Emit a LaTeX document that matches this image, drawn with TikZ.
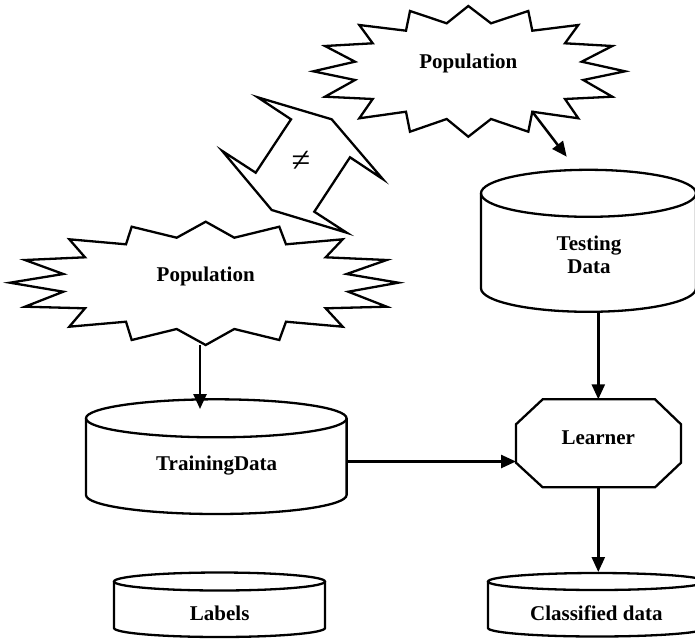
\documentclass[tikz,border=0pt]{standalone}
\usepackage{fontspec}
\setmainfont{Liberation Serif}
\usetikzlibrary{arrows.meta}
\tikzset{
  shapeline/.style={line width=2.3pt, line join=miter},
  conn/.style={line width=2.5pt, -{Triangle[length=15pt,width=13pt]}},
  lbl/.style={font=\fontsize{21}{23.5}\selectfont\bfseries, inner sep=0pt, anchor=base},
}
\newcommand\drawcyl[5]{%
  \draw[shapeline] (#1,#3) ellipse [x radius=#2, y radius=#5];
  \draw[shapeline] ({#1-#2},#3) -- ({#1-#2},#4) arc[start angle=180,end angle=0,x radius=#2,y radius=#5] -- ({#1+#2},#3);
}
\begin{document}
\begin{tikzpicture}[x=1pt,y=-1pt]
\clip (0,0) rectangle (695,640);
\fill[white] (0,0) rectangle (695,640);
% top population starburst
\draw[shapeline] (468.3,6) -- (491,23.3) -- (528.3,11) -- (532.3,30.7) -- (578.3,25) -- (565,43.3) -- (612.3,46) -- (581.7,61.7) -- (625,71.3) -- (583.3,80) -- (612.3,96.7) -- (565,99) -- (578.3,118.3) -- (532.3,111.7) -- (528.3,131.7) -- (491,119) -- (468.3,136.7) -- (446.7,119) -- (410,131.7) -- (406,111.7) -- (359.3,118.3) -- (372.7,99) -- (325,96.7) -- (355,80) -- (313.3,71.3) -- (355,61.7) -- (325,46) -- (372.7,43.3) -- (359.3,25) -- (406,30.7) -- (410,11) -- (446.7,23.3) -- cycle;
% lower population starburst
\draw[shapeline] (205.7,221.7) -- (234.3,237.7) -- (279.3,226.7) -- (286,244.3) -- (342.7,239.3) -- (325.7,257.3) -- (386.7,260) -- (346.7,274) -- (398.3,282.7) -- (348.3,291.7) -- (386.7,306.7) -- (325.7,308.3) -- (342.7,326.7) -- (286,321.7) -- (279.3,340) -- (234.3,329) -- (205.7,345) -- (176.7,329) -- (131.7,340) -- (126,321.7) -- (69.3,326.7) -- (85,308.3) -- (25,306.7) -- (63.3,291.7) -- (10,282.7) -- (63.3,274) -- (25,260) -- (85,257.3) -- (69.3,239.3) -- (126,244.3) -- (131.7,226.7) -- (176.7,237.7) -- cycle;
% double arrow
\draw[shapeline] (257.7,97.3) -- (331.7,119.3) -- (382.7,179) -- (350,157.3) -- (314.3,211.7) -- (346.7,232.7) -- (271.7,210) -- (222.3,151) -- (255.7,172.7) -- (291,119.3) -- cycle;
% cylinders
\drawcyl{588.5}{107.5}{193.3}{288.3}{23.5}
\drawcyl{216.3}{130.3}{418.3}{495}{19}
\drawcyl{219.5}{105.5}{581.5}{628}{9}
\drawcyl{597}{109}{581.5}{628}{8.5}
% learner octagon
\draw[shapeline] (542.7,399.3) -- (655,399.3) -- (681,424.3) -- (681,462.7) -- (655,487.3) -- (542.7,487.3) -- (516,462.7) -- (516,424.3) -- cycle;
% texts
\node[lbl] (popT) at (468.3,68.3) {Population};
\node[lbl] (popB) at (205.7,281) {Population};
\node[font=\fontsize{34}{36}\selectfont, inner sep=0pt] (neq) at (301,161.7) {≠};
\node[font=\fontsize{21}{23.3}\selectfont\bfseries, inner sep=0pt, align=center] (test) at (589,255) {Testing\\Data};
\node[lbl] (train) at (216.7,470) {TrainingData};
\node[lbl] (learn) at (598.3,444) {Learner};
\node[lbl] (labels) at (219.7,620) {Labels};
\node[lbl] (class) at (596.3,620) {Classified data};
% connector end points
\coordinate (popTout) at (532.3,111.7);
\coordinate (testIn) at (566.7,156.7);
\coordinate (popBout) at (200,345);
\coordinate (trainIn) at (200,409);
\coordinate (testOut) at (598.3,310.5);
\coordinate (learnTop) at (598.3,399.3);
\coordinate (trainOut) at (346.7,461.5);
\coordinate (learnLeft) at (516,461.5);
\coordinate (learnBot) at (598.3,487.3);
\coordinate (classIn) at (598.3,572);
\draw[conn] (popTout) -- (testIn);
\draw[conn] (popBout) -- (trainIn);
\draw[conn] (testOut) -- (learnTop);
\draw[conn] (trainOut) -- (learnLeft);
\draw[conn] (learnBot) -- (classIn);
\end{tikzpicture}
\end{document}
